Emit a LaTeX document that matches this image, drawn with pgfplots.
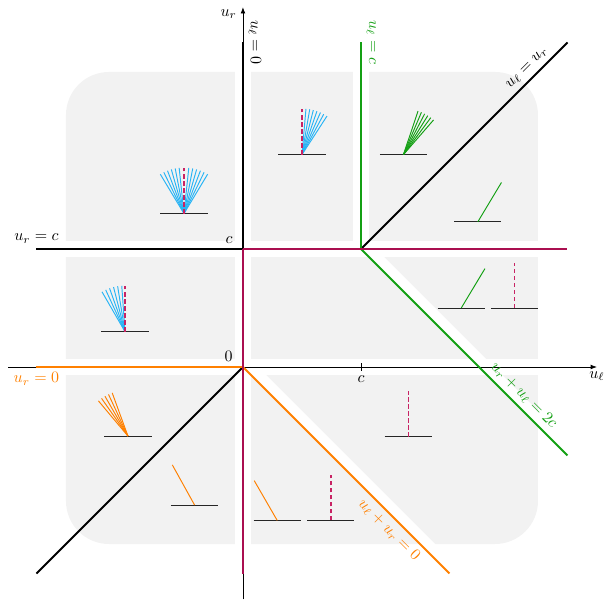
\documentclass[border=0pt]{standalone}
\usepackage{pgfplots}
\pgfplotsset{compat=1.18}
\usetikzlibrary{arrows.meta}
\definecolor{bgray}{RGB}{242,242,242}
\definecolor{lgreen}{RGB}{20,160,20}
\definecolor{lorange}{RGB}{255,128,0}
\definecolor{lcrim}{RGB}{170,15,80}
\definecolor{dcrim}{RGB}{200,35,100}
\definecolor{lblue}{RGB}{40,180,245}

% a short wall segment centred on (#1,#2)
\newcommand{\ground}[2]{\draw[black!85, line width=0.6pt] (axis cs:#1,#2) ++(-14.8pt,0pt) -- ++(29.6pt,0pt);}
% a single ray from (#2,#3) at angle #4, colour #1
\newcommand{\ray}[4]{\draw[#1, line width=0.6pt] (axis cs:#2,#3) -- ++(#4:28.8pt);}
% the vertical dashed ray
\newcommand{\vray}[2]{\draw[dcrim, line width=0.8pt, dash pattern=on 2.6pt off 1.8pt] (axis cs:#1,#2) -- ++(0pt,28.3pt);}

\begin{document}
\begin{tikzpicture}
\begin{axis}[
  x=74pt, y=74pt,
  xmin=-2, xmax=3, ymin=-1.95, ymax=3.05,
  hide axis, clip=false,
]
% overall extent of the figure
\path (axis cs:-2.059,-1.983) rectangle (axis cs:3.068,3.110);

% shaded background with gaps along the curves
\fill[bgray, rounded corners=27pt] (axis cs:-1.5,-1.5) rectangle (axis cs:2.5,2.5);
\draw[white, line width=10pt] (axis cs:-1.6,1) -- (axis cs:2.6,1);
\draw[white, line width=10pt] (axis cs:-1.6,0) -- (axis cs:2.6,0);
\draw[white, line width=10pt] (axis cs:0,-1.6) -- (axis cs:0,2.6);
\draw[white, line width=10pt] (axis cs:1,1) -- (axis cs:1,2.6);
\draw[white, line width=6pt] (axis cs:1.035,1.035) -- (axis cs:2.85,-0.78);
\draw[white, line width=6pt] (axis cs:0.035,0.035) -- (axis cs:1.85,-1.78);

% coordinate axes
\draw[line width=0.5pt, -{Latex[length=4pt,width=3pt]}] (axis cs:-1.99,0) -- (axis cs:3.0,0);
\draw[line width=0.5pt, -{Latex[length=4pt,width=3pt]}] (axis cs:0,-1.97) -- (axis cs:0,3.05);
\draw[line width=0.5pt] (axis cs:1,0) ++(0pt,-2.3pt) -- ++(0pt,4.6pt);

% curves
\addplot[black, line width=1.2pt] coordinates {(-1.75,-1.75) (0,0)};
\addplot[black, line width=1.2pt] coordinates {(1,1) (2.75,2.75)};
\addplot[black, line width=1.2pt] coordinates {(-1.75,1) (0,1)};
\addplot[black, line width=1.2pt] coordinates {(0,1) (0,2.75)};
\addplot[lorange, line width=1.2pt] coordinates {(-1.75,0) (0,0)};
\addplot[lorange, line width=1.2pt] coordinates {(0,0) (1.75,-1.75)};
\addplot[lgreen, line width=1.2pt] coordinates {(1,1) (1,2.75)};
\addplot[lgreen, line width=1.2pt] coordinates {(1,1) (2.75,-0.75)};
\addplot[lcrim, line width=1.2pt] coordinates {(0,1) (2.75,1)};
\addplot[lcrim, line width=1.2pt] coordinates {(0,1) (0,-1.75)};

% wave fans
\ground{-0.5}{1.3}
\pgfplotsinvokeforeach{59,64,69,74,79,84,96,101,106,111,116,121}{\ray{lblue}{-0.5}{1.3}{#1}}
\vray{-0.5}{1.3}

\ground{0.5}{1.8}
\pgfplotsinvokeforeach{57,61.7,66.3,71,75.7,80.3,85}{\ray{lblue}{0.5}{1.8}{#1}}
\vray{0.5}{1.8}

\ground{1.36}{1.8}
\pgfplotsinvokeforeach{49,53.5,58,62.5,67,71.5}{\ray{lgreen}{1.36}{1.8}{#1}}

\ground{1.99}{1.23}
\ray{lgreen}{1.99}{1.23}{59}

\ground{1.85}{0.5}
\ray{lgreen}{1.85}{0.5}{59}
\ground{2.3}{0.5}
\vray{2.3}{0.5}

\ground{-1.0}{0.3}
\pgfplotsinvokeforeach{94,99.2,104.4,109.6,114.8,120}{\ray{lblue}{-1.0}{0.3}{#1}}
\vray{-1.0}{0.3}

\ground{-0.975}{-0.585}
\pgfplotsinvokeforeach{110,115,120,125,130}{\ray{lorange}{-0.975}{-0.585}{#1}}

\ground{-0.41}{-1.17}
\ray{lorange}{-0.41}{-1.17}{119}

\ground{0.29}{-1.3}
\ray{lorange}{0.29}{-1.3}{120}
\ground{0.745}{-1.3}
\vray{0.745}{-1.3}

\ground{1.4}{-0.59}
\vray{1.4}{-0.59}

% labels
\node[anchor=east, inner sep=0pt] at (axis cs:-0.05,2.99) {$u_r$};
\node[anchor=north, inner sep=0pt] at (axis cs:3.0,-0.035) {$u_\ell$};
\node[anchor=south east, xshift=-3pt] at (axis cs:0,0) {$0$};
\node[anchor=south east, xshift=-3pt] at (axis cs:0,1) {$c$};
\node[anchor=north, yshift=-2pt] at (axis cs:1,0) {$c$};
\node[anchor=south] at (axis cs:-1.75,1) {$u_r = c$};
\node[anchor=north, text=lorange] at (axis cs:-1.75,0) {$u_r = 0$};
\node[anchor=south, rotate=-90] at (axis cs:0,2.75) {$u_\ell = 0$};
\node[anchor=south, rotate=-90, text=lgreen] at (axis cs:1,2.75) {$u_\ell = c$};
\node[anchor=south, rotate=45] at (axis cs:2.47,2.47) {$u_\ell = u_r$};
\node[anchor=south, rotate=-45, text=lgreen] at (axis cs:2.31,-0.31) {$u_r + u_\ell = 2c$};
\node[anchor=north, rotate=-45, text=lorange] at (axis cs:1.31,-1.31) {$u_\ell + u_r = 0$};
\end{axis}
\end{tikzpicture}
\end{document}
